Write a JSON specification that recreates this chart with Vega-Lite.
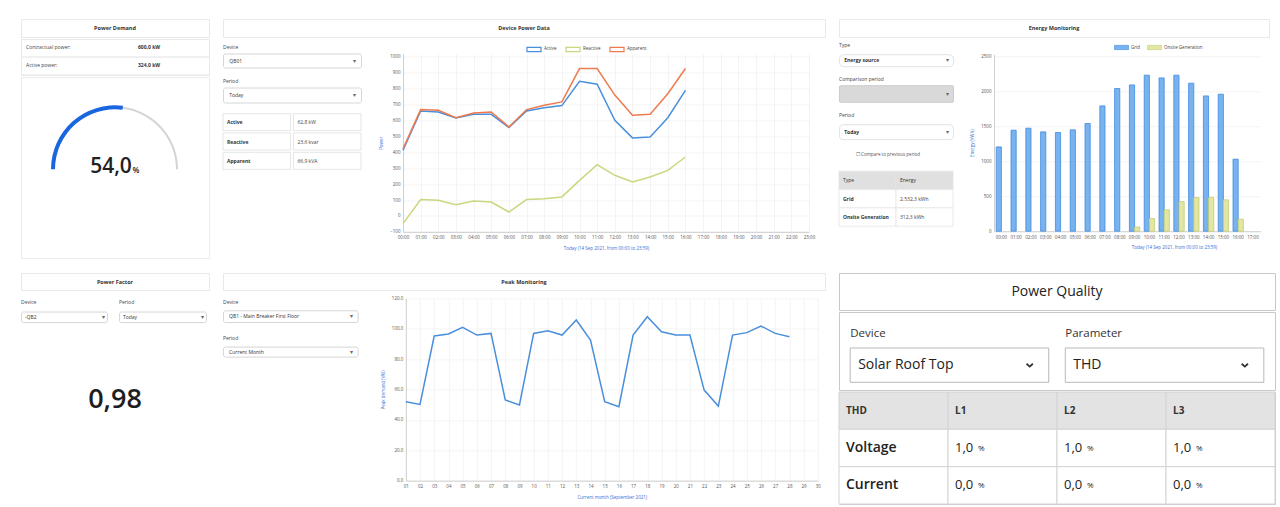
{
 "$schema": "https://vega.github.io/schema/vega-lite/v6.json",
 "background": "#ffffff",
 "padding": {"left": 20, "top": 18, "right": 0, "bottom": 0},
 "config": {
  "view": {"stroke": null},
  "font": "Open Sans",
  "axis": {"labelFontSize": 4.5, "titleFontSize": 4.5, "labelColor": "#555555", "titleColor": "#2f70d8", "titleFontWeight": "normal", "gridColor": "#ececec", "gridWidth": 0.6, "domainColor": "#d0d0d0", "tickSize": 0, "labelPadding": 3, "titlePadding": 6},
  "legend": {"labelFontSize": 4.5, "labelColor": "#444444"}
 },
 "resolve": {"scale": {"color": "independent", "stroke": "independent"}, "legend": {"color": "independent"}},
 "spacing": 13,
 "vconcat": [
  {"spacing": 12, "resolve": {"scale": {"color": "independent", "stroke": "independent"}, "legend": {"color": "independent"}}, "hconcat": [
   {"spacing": 0, "vconcat": [
    {"width": 188, "height": 18, "view": {"stroke": "#e9e9e9"}, "data": {"values": [{"t": "Power Demand"}]}, "mark": {"type": "text", "fontSize": 5.5, "fontWeight": "bold", "color": "#333333"}, "encoding": {"text": {"field": "t"}}},
    {"width": 188, "height": 36, "view": {"stroke": "#e9e9e9"},
     "data": {"values": [{"item": "Contractual power:", "val": "600,0 kW"}, {"item": "Active power:", "val": "324,0 kW"}]},
     "transform": [{"fold": ["item", "val"], "as": ["key", "txt"]}],
     "encoding": {"y": {"field": "item", "type": "nominal", "scale": {"type": "band", "domain": ["Contractual power:", "Active power:"], "paddingInner": 0, "paddingOuter": 0}, "axis": null}},
     "layer": [
      {"mark": {"type": "rule", "color": "#ececec"}, "encoding": {"y": {"field": "item", "type": "nominal", "bandPosition": 1}}},
      {"transform": [{"filter": "datum.key == 'item'"}], "mark": {"type": "text", "align": "left", "fontSize": 5, "color": "#444444", "dy": -1}, "encoding": {"x": {"field": "key", "type": "nominal", "bandPosition": 0, "scale": {"type": "band", "domain": ["item", "val"], "paddingInner": 0.411, "paddingOuter": 0.045}, "axis": null}, "text": {"field": "txt"}}},
      {"transform": [{"filter": "datum.key == 'val'"}], "mark": {"type": "text", "align": "left", "fontSize": 5, "fontWeight": "bold", "color": "#333333", "dy": -1}, "encoding": {"x": {"field": "key", "type": "nominal", "bandPosition": 0}, "text": {"field": "txt"}}}
     ]},
    {"width": 188, "height": 181, "view": {"stroke": "#ececec"},
     "encoding": {"y": {"datum": "g", "type": "nominal", "scale": {"type": "point", "domain": ["g"], "padding": 0, "align": 0.51}, "axis": null}},
     "layer": [
      {"data": {"values": [{"part": "value", "from": 0, "to": 54}, {"part": "rest", "from": 54, "to": 100}]}, "transform": [{"filter": "datum.part == 'rest'"}], "mark": {"type": "arc", "radius": 63, "radius2": 61, "color": "#d4d4d4"}, "encoding": {"theta": {"field": "from", "type": "quantitative", "stack": null, "scale": {"domain": [0, 100], "range": [-1.5708, 1.5708]}}, "theta2": {"field": "to"}}},
      {"data": {"values": [{"part": "value", "from": 0, "to": 54}, {"part": "rest", "from": 54, "to": 100}]}, "transform": [{"filter": "datum.part == 'value'"}], "mark": {"type": "arc", "radius": 64, "radius2": 60, "color": "#1a66de"}, "encoding": {"theta": {"field": "from", "type": "quantitative", "stack": null}, "theta2": {"field": "to"}}},
      {"data": {"values": [{"t": "54,0"}]}, "mark": {"type": "text", "fontSize": 21, "fontWeight": 600, "color": "#222222", "dx": -4, "dy": -2}, "encoding": {"text": {"field": "t"}}},
      {"data": {"values": [{"t": "%"}]}, "mark": {"type": "text", "fontSize": 8, "fontWeight": 600, "color": "#222222", "dx": 21, "dy": 2}, "encoding": {"text": {"field": "t"}}}
     ]}
   ]},
   {"spacing": 2.5, "resolve": {"scale": {"color": "independent"}, "legend": {"color": "independent"}}, "vconcat": [
    {"width": 602, "height": 18, "view": {"stroke": "#e9e9e9"}, "data": {"values": [{"t": "Device Power Data"}]}, "mark": {"type": "text", "fontSize": 5.5, "fontWeight": "bold", "color": "#333333"}, "encoding": {"text": {"field": "t"}}},
    {"spacing": 16, "resolve": {"scale": {"color": "independent"}, "legend": {"color": "independent"}}, "hconcat": [
     {"spacing": 9, "vconcat": [
      {"width": 138, "height": 14, "view": {"stroke": "#d6d6d6", "cornerRadius": 2}, "title": {"text": "Device", "anchor": "start", "frame": "group", "fontSize": 5, "fontWeight": "normal", "color": "#444444", "offset": 4}, "data": {"values": [{"slot": "text", "label": "QB01"}, {"slot": "arrow", "label": "▾"}]}, "encoding": {"x": {"field": "slot", "type": "nominal", "scale": {"type": "point", "domain": ["text", "arrow"], "padding": 0.05}, "axis": null}, "text": {"field": "label"}}, "layer": [{"transform": [{"filter": "datum.slot == 'text'"}], "mark": {"type": "text", "align": "left", "fontSize": 5, "color": "#333333"}}, {"transform": [{"filter": "datum.slot == 'arrow'"}], "mark": {"type": "text", "fontSize": 6, "color": "#666666"}}]},
      {"width": 138, "height": 15, "view": {"stroke": "#d6d6d6", "cornerRadius": 2}, "title": {"text": "Period", "anchor": "start", "frame": "group", "fontSize": 5, "fontWeight": "normal", "color": "#444444", "offset": 4}, "data": {"values": [{"slot": "text", "label": "Today"}, {"slot": "arrow", "label": "▾"}]}, "encoding": {"x": {"field": "slot", "type": "nominal", "scale": {"type": "point", "domain": ["text", "arrow"], "padding": 0.05}, "axis": null}, "text": {"field": "label"}}, "layer": [{"transform": [{"filter": "datum.slot == 'text'"}], "mark": {"type": "text", "align": "left", "fontSize": 5, "color": "#333333"}}, {"transform": [{"filter": "datum.slot == 'arrow'"}], "mark": {"type": "text", "fontSize": 6, "color": "#666666"}}]},
      {"width": 138, "height": 58,
       "data": {"values": [{"row": "Active", "k": "Active", "v": "62,8 kW"}, {"row": "Reactive", "k": "Reactive", "v": "23,6 kvar"}, {"row": "Apparent", "k": "Apparent", "v": "66,9 kVA"}]},
       "transform": [{"fold": ["k", "v"], "as": ["key", "txt"]}],
       "encoding": {"y": {"field": "row", "type": "nominal", "scale": {"type": "band", "domain": ["Active", "Reactive", "Apparent"], "paddingInner": 0.12, "paddingOuter": 0.06}, "axis": null},
                    "x": {"field": "key", "type": "nominal", "scale": {"type": "band", "domain": ["k", "v"], "paddingInner": 0.04, "paddingOuter": 0}, "axis": null}},
       "layer": [
        {"mark": {"type": "rect", "fill": "#ffffff", "stroke": "#dedede", "strokeWidth": 0.8}},
        {"transform": [{"filter": "datum.key == 'k'"}], "mark": {"type": "text", "align": "left", "dx": 4, "fontSize": 5, "fontWeight": "bold", "color": "#333333"}, "encoding": {"x": {"field": "key", "type": "nominal", "bandPosition": 0}, "text": {"field": "txt"}}},
        {"transform": [{"filter": "datum.key == 'v'"}], "mark": {"type": "text", "align": "left", "dx": 4, "fontSize": 5, "color": "#444444"}, "encoding": {"x": {"field": "key", "type": "nominal", "bandPosition": 0}, "text": {"field": "txt"}}}
       ]}
     ]},
     {"width": 406, "height": 178.4,
      "data": {"values": [
       {"hour": 0, "series": "Active", "kW": 413}, {"hour": 1, "series": "Active", "kW": 660}, {"hour": 2, "series": "Active", "kW": 654}, {"hour": 3, "series": "Active", "kW": 616}, {"hour": 4, "series": "Active", "kW": 639}, {"hour": 5, "series": "Active", "kW": 639}, {"hour": 6, "series": "Active", "kW": 556}, {"hour": 7, "series": "Active", "kW": 660}, {"hour": 8, "series": "Active", "kW": 681}, {"hour": 9, "series": "Active", "kW": 694}, {"hour": 10, "series": "Active", "kW": 847}, {"hour": 11, "series": "Active", "kW": 828}, {"hour": 12, "series": "Active", "kW": 602}, {"hour": 13, "series": "Active", "kW": 491}, {"hour": 14, "series": "Active", "kW": 497}, {"hour": 15, "series": "Active", "kW": 618}, {"hour": 16, "series": "Active", "kW": 790},
       {"hour": 0, "series": "Reactive", "kW": -48}, {"hour": 1, "series": "Reactive", "kW": 103}, {"hour": 2, "series": "Reactive", "kW": 99}, {"hour": 3, "series": "Reactive", "kW": 71}, {"hour": 4, "series": "Reactive", "kW": 94}, {"hour": 5, "series": "Reactive", "kW": 88}, {"hour": 6, "series": "Reactive", "kW": 25}, {"hour": 7, "series": "Reactive", "kW": 103}, {"hour": 8, "series": "Reactive", "kW": 109}, {"hour": 9, "series": "Reactive", "kW": 120}, {"hour": 10, "series": "Reactive", "kW": 224}, {"hour": 11, "series": "Reactive", "kW": 323}, {"hour": 12, "series": "Reactive", "kW": 256}, {"hour": 13, "series": "Reactive", "kW": 214}, {"hour": 14, "series": "Reactive", "kW": 245}, {"hour": 15, "series": "Reactive", "kW": 287}, {"hour": 16, "series": "Reactive", "kW": 371},
       {"hour": 0, "series": "Apparent", "kW": 423}, {"hour": 1, "series": "Apparent", "kW": 669}, {"hour": 2, "series": "Apparent", "kW": 665}, {"hour": 3, "series": "Apparent", "kW": 618}, {"hour": 4, "series": "Apparent", "kW": 648}, {"hour": 5, "series": "Apparent", "kW": 654}, {"hour": 6, "series": "Apparent", "kW": 560}, {"hour": 7, "series": "Apparent", "kW": 669}, {"hour": 8, "series": "Apparent", "kW": 696}, {"hour": 9, "series": "Apparent", "kW": 717}, {"hour": 10, "series": "Apparent", "kW": 927}, {"hour": 11, "series": "Apparent", "kW": 927}, {"hour": 12, "series": "Apparent", "kW": 760}, {"hour": 13, "series": "Apparent", "kW": 633}, {"hour": 14, "series": "Apparent", "kW": 639}, {"hour": 15, "series": "Apparent", "kW": 769}, {"hour": 16, "series": "Apparent", "kW": 927}
      ]},
      "mark": {"type": "line", "strokeWidth": 1.5},
      "encoding": {
       "x": {"field": "hour", "type": "quantitative", "scale": {"domain": [0, 23], "nice": false}, "axis": {"values": [0,1,2,3,4,5,6,7,8,9,10,11,12,13,14,15,16,17,18,19,20,21,22,23], "labelExpr": "(datum.value < 10 ? '0' : '') + datum.value + ':00'", "labelOverlap": false, "labelFlush": false, "title": "Today (14 Sep 2021, from 00:00 to 23:59)", "grid": true}},
       "y": {"field": "kW", "type": "quantitative", "scale": {"domain": [-100, 1021.6], "nice": false}, "axis": {"values": [-100,0,100,200,300,400,500,600,700,800,900,1000], "format": "d", "title": "Power", "grid": true, "labelFlush": false}},
       "color": {"field": "series", "type": "nominal", "scale": {"domain": ["Active", "Reactive", "Apparent"], "range": ["#4a8fdc", "#cbd67e", "#ee7a4e"]},
        "legend": {"orient": "none", "legendX": 123, "legendY": -12.3, "direction": "horizontal", "title": null, "symbolType": "M-1,-0.3H1V0.3H-1Z", "symbolSize": 196, "symbolStrokeWidth": 1.2, "labelFontSize": 4.5, "columnPadding": 6, "labelOffset": 2}}
      }}
    ]}
   ]},
   {"spacing": 1.2, "resolve": {"scale": {"color": "independent", "stroke": "independent"}, "legend": {"color": "independent"}}, "vconcat": [
    {"width": 430, "height": 18, "view": {"stroke": "#e9e9e9"}, "data": {"values": [{"t": "Energy Monitoring"}]}, "mark": {"type": "text", "fontSize": 5.5, "fontWeight": "bold", "color": "#333333"}, "encoding": {"text": {"field": "t"}}},
    {"spacing": 15, "resolve": {"scale": {"color": "independent", "stroke": "independent"}, "legend": {"color": "independent"}}, "hconcat": [
     {"spacing": 9, "vconcat": [
      {"width": 114, "height": 12, "view": {"stroke": "#e2e2e2", "cornerRadius": 4}, "title": {"text": "Type", "anchor": "start", "frame": "group", "fontSize": 5, "fontWeight": "normal", "color": "#444444", "offset": 6}, "data": {"values": [{"slot": "text", "label": "Energy source"}, {"slot": "arrow", "label": "▾"}]}, "encoding": {"x": {"field": "slot", "type": "nominal", "scale": {"type": "point", "domain": ["text", "arrow"], "padding": 0.05}, "axis": null}, "text": {"field": "label"}}, "layer": [{"transform": [{"filter": "datum.slot == 'text'"}], "mark": {"type": "text", "align": "left", "fontSize": 5, "fontWeight": "bold", "color": "#333333"}}, {"transform": [{"filter": "datum.slot == 'arrow'"}], "mark": {"type": "text", "fontSize": 6, "color": "#666666"}}]},
      {"width": 114, "height": 16.6, "view": {"stroke": "#cccccc", "fill": "#d9d9d9", "cornerRadius": 1}, "title": {"text": "Comparison period", "anchor": "start", "frame": "group", "fontSize": 5, "fontWeight": "normal", "color": "#444444", "offset": 3}, "data": {"values": [{"slot": "text", "label": ""}, {"slot": "arrow", "label": "▾"}]}, "encoding": {"x": {"field": "slot", "type": "nominal", "scale": {"type": "point", "domain": ["text", "arrow"], "padding": 0.05}, "axis": null}, "text": {"field": "label"}}, "layer": [{"transform": [{"filter": "datum.slot == 'text'"}], "mark": {"type": "text", "align": "left", "fontSize": 5, "color": "#333333"}}, {"transform": [{"filter": "datum.slot == 'arrow'"}], "mark": {"type": "text", "fontSize": 6, "color": "#666666"}}]},
      {"width": 114, "height": 15, "view": {"stroke": "#e2e2e2", "cornerRadius": 4}, "title": {"text": "Period", "anchor": "start", "frame": "group", "fontSize": 5, "fontWeight": "normal", "color": "#444444", "offset": 6}, "data": {"values": [{"slot": "text", "label": "Today"}, {"slot": "arrow", "label": "▾"}]}, "encoding": {"x": {"field": "slot", "type": "nominal", "scale": {"type": "point", "domain": ["text", "arrow"], "padding": 0.05}, "axis": null}, "text": {"field": "label"}}, "layer": [{"transform": [{"filter": "datum.slot == 'text'"}], "mark": {"type": "text", "align": "left", "fontSize": 5, "fontWeight": "bold", "color": "#333333"}}, {"transform": [{"filter": "datum.slot == 'arrow'"}], "mark": {"type": "text", "fontSize": 6, "color": "#666666"}}]},
      {"width": 114, "height": 12, "data": {"values": [{"t": "☐ Compare to previous period"}]}, "mark": {"type": "text", "fontSize": 4.5, "color": "#555555", "dx": -8}, "encoding": {"text": {"field": "t"}}},
      {"width": 114, "height": 55,
       "data": {"values": [{"row": "Type", "col": "Type", "t": "Type"}, {"row": "Type", "col": "Energy", "t": "Energy"}, {"row": "Grid", "col": "Type", "t": "Grid"}, {"row": "Grid", "col": "Energy", "t": "2.532,3 kWh"}, {"row": "Onsite Generation", "col": "Type", "t": "Onsite Generation"}, {"row": "Onsite Generation", "col": "Energy", "t": "312,3 kWh"}]},
       "encoding": {"y": {"field": "row", "type": "nominal", "scale": {"type": "band", "domain": ["Type", "Grid", "Onsite Generation"], "paddingInner": 0, "paddingOuter": 0}, "axis": null},
                    "x": {"field": "col", "type": "nominal", "scale": {"type": "band", "domain": ["Type", "Energy"], "paddingInner": 0, "paddingOuter": 0}, "axis": null}},
       "layer": [
        {"mark": {"type": "rect", "stroke": "#e4e4e4", "strokeWidth": 0.8}, "encoding": {"fill": {"condition": {"test": "datum.row == 'Type'", "value": "#e0e0e0"}, "value": "#ffffff"}}},
        {"transform": [{"filter": "datum.row == 'Type'"}], "mark": {"type": "text", "align": "left", "dx": 4, "fontSize": 5, "color": "#333333"}, "encoding": {"x": {"field": "col", "type": "nominal", "bandPosition": 0}, "text": {"field": "t"}}},
        {"transform": [{"filter": "datum.row != 'Type' && datum.col == 'Type'"}], "mark": {"type": "text", "align": "left", "dx": 4, "fontSize": 5, "fontWeight": "bold", "color": "#333333"}, "encoding": {"x": {"field": "col", "type": "nominal", "bandPosition": 0}, "text": {"field": "t"}}},
        {"transform": [{"filter": "datum.row != 'Type' && datum.col == 'Energy'"}], "mark": {"type": "text", "align": "left", "dx": 4, "fontSize": 5, "color": "#444444"}, "encoding": {"x": {"field": "col", "type": "nominal", "bandPosition": 0}, "text": {"field": "t"}}}
       ]}
     ]},
     {"width": 266.4, "height": 177,
      "data": {"values": [
       {"hour": "00:00", "source": "Grid", "kWh": 1204}, {"hour": "01:00", "source": "Grid", "kWh": 1443}, {"hour": "02:00", "source": "Grid", "kWh": 1471}, {"hour": "03:00", "source": "Grid", "kWh": 1419}, {"hour": "04:00", "source": "Grid", "kWh": 1410}, {"hour": "05:00", "source": "Grid", "kWh": 1448}, {"hour": "06:00", "source": "Grid", "kWh": 1538}, {"hour": "07:00", "source": "Grid", "kWh": 1790}, {"hour": "08:00", "source": "Grid", "kWh": 2038}, {"hour": "09:00", "source": "Grid", "kWh": 2090}, {"hour": "10:00", "source": "Grid", "kWh": 2229}, {"hour": "11:00", "source": "Grid", "kWh": 2190}, {"hour": "12:00", "source": "Grid", "kWh": 2229}, {"hour": "13:00", "source": "Grid", "kWh": 2114}, {"hour": "14:00", "source": "Grid", "kWh": 1933}, {"hour": "15:00", "source": "Grid", "kWh": 1957}, {"hour": "16:00", "source": "Grid", "kWh": 1029},
       {"hour": "09:00", "source": "Onsite Generation", "kWh": 60}, {"hour": "10:00", "source": "Onsite Generation", "kWh": 181}, {"hour": "11:00", "source": "Onsite Generation", "kWh": 305}, {"hour": "12:00", "source": "Onsite Generation", "kWh": 424}, {"hour": "13:00", "source": "Onsite Generation", "kWh": 481}, {"hour": "14:00", "source": "Onsite Generation", "kWh": 481}, {"hour": "15:00", "source": "Onsite Generation", "kWh": 448}, {"hour": "16:00", "source": "Onsite Generation", "kWh": 171}
      ]},
      "mark": {"type": "bar", "strokeWidth": 0.8},
      "encoding": {
       "x": {"field": "hour", "type": "nominal", "scale": {"type": "band", "domain": ["00:00","01:00","02:00","03:00","04:00","05:00","06:00","07:00","08:00","09:00","10:00","11:00","12:00","13:00","14:00","15:00","16:00","17:00"], "paddingInner": 0.3, "paddingOuter": 0.15}, "axis": {"labelAngle": 0, "title": "Today (14 Sep 2021, from 00:00 to 23:59)", "titleX": 180, "grid": false}},
       "xOffset": {"field": "source", "type": "nominal", "scale": {"domain": ["Grid", "Onsite Generation"], "paddingInner": 0}},
       "y": {"field": "kWh", "type": "quantitative", "scale": {"domain": [0, 2528.6], "nice": false}, "axis": {"values": [0, 500, 1000, 1500, 2000, 2500], "format": "d", "title": "Energy (kWh)", "grid": true}},
       "color": {"field": "source", "type": "nominal", "scale": {"domain": ["Grid", "Onsite Generation"], "range": ["#79b3ef", "#e1e7a3"]},
        "legend": {"orient": "none", "legendX": 120, "legendY": -14.3, "direction": "horizontal", "title": null, "symbolType": "M-1,-0.3H1V0.3H-1Z", "symbolSize": 196, "symbolStrokeColor": "#8fa8c8", "symbolStrokeWidth": 0.6, "labelFontSize": 4.5, "columnPadding": 6, "labelOffset": 2}},
       "stroke": {"field": "source", "type": "nominal", "scale": {"domain": ["Grid", "Onsite Generation"], "range": ["#3f8ae0", "#c5cd6f"]}, "legend": null}
      }}
    ]}
   ]}
  ]},
  {"spacing": 12, "hconcat": [
   {"spacing": 7.5, "vconcat": [
    {"width": 188, "height": 17, "view": {"stroke": "#e9e9e9"}, "data": {"values": [{"t": "Power Factor"}]}, "mark": {"type": "text", "fontSize": 5.5, "fontWeight": "bold", "color": "#333333"}, "encoding": {"text": {"field": "t"}}},
    {"spacing": 10, "hconcat": [
     {"width": 86, "height": 10.6, "view": {"stroke": "#d6d6d6", "cornerRadius": 2}, "title": {"text": "Device", "anchor": "start", "frame": "group", "fontSize": 5, "fontWeight": "normal", "color": "#444444", "offset": 7}, "data": {"values": [{"slot": "text", "label": "-QB2"}, {"slot": "arrow", "label": "▾"}]}, "encoding": {"x": {"field": "slot", "type": "nominal", "scale": {"type": "point", "domain": ["text", "arrow"], "padding": 0.05}, "axis": null}, "text": {"field": "label"}}, "layer": [{"transform": [{"filter": "datum.slot == 'text'"}], "mark": {"type": "text", "align": "left", "fontSize": 5, "color": "#333333"}}, {"transform": [{"filter": "datum.slot == 'arrow'"}], "mark": {"type": "text", "fontSize": 6, "color": "#666666"}}]},
     {"width": 87, "height": 10.6, "view": {"stroke": "#d6d6d6", "cornerRadius": 2}, "title": {"text": "Period", "anchor": "start", "frame": "group", "fontSize": 5, "fontWeight": "normal", "color": "#444444", "offset": 7}, "data": {"values": [{"slot": "text", "label": "Today"}, {"slot": "arrow", "label": "▾"}]}, "encoding": {"x": {"field": "slot", "type": "nominal", "scale": {"type": "point", "domain": ["text", "arrow"], "padding": 0.05}, "axis": null}, "text": {"field": "label"}}, "layer": [{"transform": [{"filter": "datum.slot == 'text'"}], "mark": {"type": "text", "align": "left", "fontSize": 5, "color": "#333333"}}, {"transform": [{"filter": "datum.slot == 'arrow'"}], "mark": {"type": "text", "fontSize": 6, "color": "#666666"}}]}
    ]},
    {"width": 188, "height": 172, "data": {"values": [{"t": "0,98"}]}, "mark": {"type": "text", "fontSize": 27, "fontWeight": 600, "color": "#1e1e1e", "dy": -16.6}, "encoding": {"text": {"field": "t"}}}
   ]},
   {"spacing": 4.3, "vconcat": [
    {"width": 602, "height": 17, "view": {"stroke": "#e9e9e9"}, "data": {"values": [{"t": "Peak Monitoring"}]}, "mark": {"type": "text", "fontSize": 5.5, "fontWeight": "bold", "color": "#333333"}, "encoding": {"text": {"field": "t"}}},
    {"spacing": 20.8, "hconcat": [
     {"spacing": 0, "vconcat": [
      {"width": 134.7, "height": 0.5, "data": {"values": [{}]}, "mark": {"type": "rect", "opacity": 0}, "encoding": {}},
      {"spacing": 11.3, "vconcat": [
       {"width": 134.7, "height": 11.7, "view": {"stroke": "#d6d6d6", "cornerRadius": 2}, "title": {"text": "Device", "anchor": "start", "frame": "group", "fontSize": 5, "fontWeight": "normal", "color": "#444444", "offset": 5}, "data": {"values": [{"slot": "text", "label": "QB1 - Main Breaker First Floor"}, {"slot": "arrow", "label": "▾"}]}, "encoding": {"x": {"field": "slot", "type": "nominal", "scale": {"type": "point", "domain": ["text", "arrow"], "padding": 0.05}, "axis": null}, "text": {"field": "label"}}, "layer": [{"transform": [{"filter": "datum.slot == 'text'"}], "mark": {"type": "text", "align": "left", "fontSize": 5, "color": "#333333"}}, {"transform": [{"filter": "datum.slot == 'arrow'"}], "mark": {"type": "text", "fontSize": 6, "color": "#666666"}}]},
       {"width": 134.7, "height": 10, "view": {"stroke": "#d6d6d6", "cornerRadius": 2}, "title": {"text": "Period", "anchor": "start", "frame": "group", "fontSize": 5, "fontWeight": "normal", "color": "#444444", "offset": 6}, "data": {"values": [{"slot": "text", "label": "Current Month"}, {"slot": "arrow", "label": "▾"}]}, "encoding": {"x": {"field": "slot", "type": "nominal", "scale": {"type": "point", "domain": ["text", "arrow"], "padding": 0.05}, "axis": null}, "text": {"field": "label"}}, "layer": [{"transform": [{"filter": "datum.slot == 'text'"}], "mark": {"type": "text", "align": "left", "fontSize": 5, "color": "#333333"}}, {"transform": [{"filter": "datum.slot == 'arrow'"}], "mark": {"type": "text", "fontSize": 6, "color": "#666666"}}]}
      ]}
     ]},
     {"width": 412, "height": 182.4,
      "data": {"values": [
       {"day": 1, "peak": 52.0}, {"day": 2, "peak": 50.2}, {"day": 3, "peak": 95.2}, {"day": 4, "peak": 96.5}, {"day": 5, "peak": 100.9}, {"day": 6, "peak": 95.8}, {"day": 7, "peak": 96.9}, {"day": 8, "peak": 53.1}, {"day": 9, "peak": 49.8}, {"day": 10, "peak": 96.9}, {"day": 11, "peak": 98.7}, {"day": 12, "peak": 95.8}, {"day": 13, "peak": 105.7}, {"day": 14, "peak": 92.5}, {"day": 15, "peak": 52.0}, {"day": 16, "peak": 48.7}, {"day": 17, "peak": 95.8}, {"day": 18, "peak": 107.9}, {"day": 19, "peak": 98.0}, {"day": 20, "peak": 95.8}, {"day": 21, "peak": 95.8}, {"day": 22, "peak": 59.6}, {"day": 23, "peak": 49.1}, {"day": 24, "peak": 95.8}, {"day": 25, "peak": 97.4}, {"day": 26, "peak": 101.8}, {"day": 27, "peak": 96.9}, {"day": 28, "peak": 94.7}
      ]},
      "mark": {"type": "line", "strokeWidth": 1.5, "color": "#4a8fdc"},
      "encoding": {
       "x": {"field": "day", "type": "quantitative", "scale": {"domain": [1, 30], "nice": false}, "axis": {"values": [1,2,3,4,5,6,7,8,9,10,11,12,13,14,15,16,17,18,19,20,21,22,23,24,25,26,27,28,29,30], "labelExpr": "datum.value < 10 ? '0' + datum.value : '' + datum.value", "labelOverlap": false, "labelFlush": false, "title": "Current month (September 2021)", "grid": true}},
       "y": {"field": "peak", "type": "quantitative", "scale": {"domain": [0, 120], "nice": false}, "axis": {"values": [0, 20, 40, 60, 80, 100, 120], "labelExpr": "replace(format(datum.value, '.1f'), '.', ',')", "labelFlush": false, "title": "Peak demand (kW)", "grid": true}}
      }}
    ]}
   ]},
   {"spacing": 0, "vconcat": [
    {"width": 436, "height": 37, "view": {"stroke": "#c8c8c8"}, "data": {"values": [{"t": "Power Quality"}]}, "mark": {"type": "text", "fontSize": 14, "fontWeight": 500, "color": "#222222"}, "encoding": {"text": {"field": "t"}}},
    {"width": 436, "height": 78, "view": {"stroke": "#c8c8c8"},
     "data": {"values": [{"ctl": "Device", "value": "Solar Roof Top"}, {"ctl": "Parameter", "value": "THD"}]},
     "encoding": {
      "x": {"field": "ctl", "type": "nominal", "scale": {"type": "band", "domain": ["Device", "Parameter"], "paddingInner": 0.077, "paddingOuter": 0.052}, "axis": null},
      "y": {"datum": "box", "type": "nominal", "scale": {"type": "band", "domain": ["box"], "paddingInner": 0, "paddingOuter": 0.637, "align": 0.824}, "axis": null}
     },
     "layer": [
      {"mark": {"type": "rect", "fill": "#ffffff", "stroke": "#b8b8b8", "strokeWidth": 1}},
      {"mark": {"type": "text", "align": "left", "dy": -31, "fontSize": 11.5, "fontWeight": 500, "color": "#333333"}, "encoding": {"x": {"field": "ctl", "type": "nominal", "bandPosition": 0}, "text": {"field": "ctl"}}},
      {"mark": {"type": "text", "align": "left", "dx": 8, "fontSize": 14, "color": "#222222"}, "encoding": {"x": {"field": "ctl", "type": "nominal", "bandPosition": 0}, "text": {"field": "value"}}},
      {"mark": {"type": "point", "shape": "M-1,-0.45L0,0.45L1,-0.45", "filled": false, "size": 40, "strokeWidth": 1.8, "color": "#333333", "xOffset": -19, "opacity": 1}, "encoding": {"x": {"field": "ctl", "type": "nominal", "bandPosition": 1}}}
     ]},
    {"width": 436, "height": 112, "view": {"stroke": "#c8c8c8"},
     "data": {"values": [
      {"row": "THD", "col": "Name", "t": "THD"}, {"row": "THD", "col": "L1", "t": "L1"}, {"row": "THD", "col": "L2", "t": "L2"}, {"row": "THD", "col": "L3", "t": "L3"},
      {"row": "Voltage", "col": "Name", "t": "Voltage"}, {"row": "Voltage", "col": "L1", "t": "1,0", "u": "%"}, {"row": "Voltage", "col": "L2", "t": "1,0", "u": "%"}, {"row": "Voltage", "col": "L3", "t": "1,0", "u": "%"},
      {"row": "Current", "col": "Name", "t": "Current"}, {"row": "Current", "col": "L1", "t": "0,0", "u": "%"}, {"row": "Current", "col": "L2", "t": "0,0", "u": "%"}, {"row": "Current", "col": "L3", "t": "0,0", "u": "%"}
     ]},
     "encoding": {
      "x": {"field": "col", "type": "nominal", "scale": {"type": "band", "domain": ["Name", "L1", "L2", "L3"], "paddingInner": 0, "paddingOuter": 0}, "axis": null},
      "y": {"field": "row", "type": "nominal", "scale": {"type": "band", "domain": ["THD", "Voltage", "Current"], "paddingInner": 0, "paddingOuter": 0}, "axis": null}
     },
     "layer": [
      {"mark": {"type": "rect", "stroke": "#d4d4d4", "strokeWidth": 1}, "encoding": {"fill": {"condition": {"test": "datum.row == 'THD'", "value": "#e3e3e3"}, "value": "#ffffff"}}},
      {"transform": [{"filter": "datum.row == 'THD'"}], "mark": {"type": "text", "align": "left", "dx": 7, "fontSize": 10, "fontWeight": "bold", "color": "#333333"}, "encoding": {"x": {"field": "col", "type": "nominal", "bandPosition": 0}, "text": {"field": "t"}}},
      {"transform": [{"filter": "datum.row != 'THD' && datum.col == 'Name'"}], "mark": {"type": "text", "align": "left", "dx": 7, "fontSize": 14, "fontWeight": 600, "color": "#222222"}, "encoding": {"x": {"field": "col", "type": "nominal", "bandPosition": 0}, "text": {"field": "t"}}},
      {"transform": [{"filter": "datum.row != 'THD' && datum.col != 'Name'"}], "mark": {"type": "text", "align": "left", "dx": 7, "fontSize": 13, "color": "#222222"}, "encoding": {"x": {"field": "col", "type": "nominal", "bandPosition": 0}, "text": {"field": "t"}}},
      {"transform": [{"filter": "datum.row != 'THD' && datum.col != 'Name'"}], "mark": {"type": "text", "align": "left", "dx": 30, "dy": 1, "fontSize": 8, "color": "#222222"}, "encoding": {"x": {"field": "col", "type": "nominal", "bandPosition": 0}, "text": {"field": "u"}}}
     ]}
   ]}
  ]}
 ]
}
